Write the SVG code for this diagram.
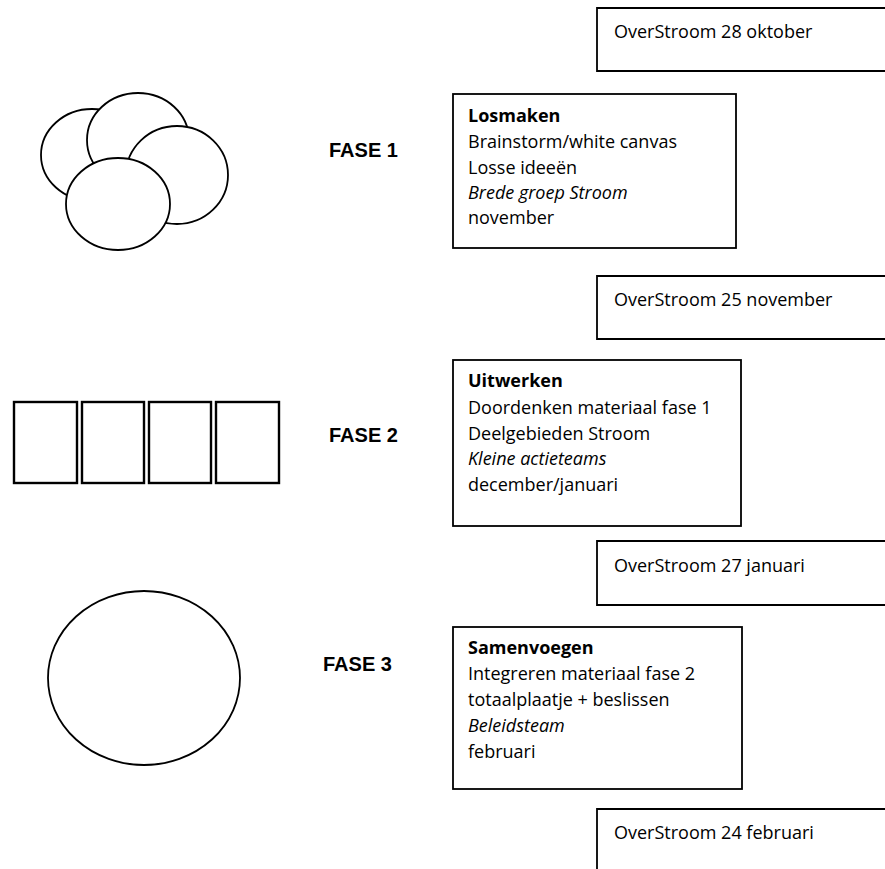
<svg xmlns="http://www.w3.org/2000/svg" width="885" height="869" viewBox="0 0 885 869">
<style>
.t{font-family:"Open Sans","Liberation Sans",sans-serif;font-size:18px;fill:#000}
.b{font-weight:bold}
.i{font-style:italic}
.f{font-family:"Liberation Sans","Open Sans",sans-serif;font-size:20px;font-weight:bold;fill:#000}
.box{fill:#fff;stroke:#000;stroke-width:1.8}
.sh{fill:#fff;stroke:#000;stroke-width:1.8}
.rc{fill:#fff;stroke:#000;stroke-width:2.4}
</style>
<rect width="885" height="869" fill="#fff"/>
<g id="phase1-shape">
<ellipse class="sh" cx="92" cy="155" rx="51" ry="46"/>
<ellipse class="sh" cx="138" cy="140" rx="51" ry="47"/>
<ellipse class="sh" cx="177" cy="175" rx="51" ry="49"/>
<ellipse class="sh" cx="118" cy="204" rx="52" ry="46"/>
</g>
<g id="phase2-shape">
<rect class="rc" x="14" y="402" width="63" height="81"/>
<rect class="rc" x="82" y="402" width="62" height="81"/>
<rect class="rc" x="149" y="402" width="62" height="81"/>
<rect class="rc" x="216" y="402" width="63" height="81"/>
</g>
<g id="phase3-shape">
<ellipse class="sh" cx="144" cy="678" rx="96" ry="87"/>
</g>
<g id="fase-labels">
<text class="f" x="329" y="157">FASE 1</text>
<text class="f" x="329" y="442">FASE 2</text>
<text class="f" x="323" y="671">FASE 3</text>
</g>
<g id="overstroom1">
<path class="box" d="M886,8 H597 V71 H886"/>
<text class="t" x="614" y="38">OverStroom 28 oktober</text>
</g>
<g id="losmaken">
<rect class="box" x="453" y="94" width="283" height="154"/>
<text class="t b" x="468" y="122">Losmaken</text>
<text class="t" x="468" y="148">Brainstorm/white canvas</text>
<text class="t" x="468" y="174">Losse ideeën</text>
<text class="t i" x="468" y="199">Brede groep Stroom</text>
<text class="t" x="468" y="224">november</text>
</g>
<g id="overstroom2">
<path class="box" d="M886,276 H597 V339 H886"/>
<text class="t" x="614" y="306">OverStroom 25 november</text>
</g>
<g id="uitwerken">
<rect class="box" x="453" y="360" width="288" height="166"/>
<text class="t b" x="468" y="387">Uitwerken</text>
<text class="t" x="468" y="414">Doordenken materiaal fase 1</text>
<text class="t" x="468" y="440">Deelgebieden Stroom</text>
<text class="t i" x="468" y="465">Kleine actieteams</text>
<text class="t" x="468" y="491">december/januari</text>
</g>
<g id="overstroom3">
<path class="box" d="M886,541 H597 V605 H886"/>
<text class="t" x="614" y="572">OverStroom 27 januari</text>
</g>
<g id="samenvoegen">
<rect class="box" x="453" y="627" width="289" height="162"/>
<text class="t b" x="468" y="654">Samenvoegen</text>
<text class="t" x="468" y="680">Integreren materiaal fase 2</text>
<text class="t" x="468" y="706">totaalplaatje + beslissen</text>
<text class="t i" x="468" y="732">Beleidsteam</text>
<text class="t" x="468" y="758">februari</text>
</g>
<g id="overstroom4">
<path class="box" d="M886,809 H597 V870"/>
<text class="t" x="614" y="839">OverStroom 24 februari</text>
</g>
<g id="connectors"/>
</svg>
